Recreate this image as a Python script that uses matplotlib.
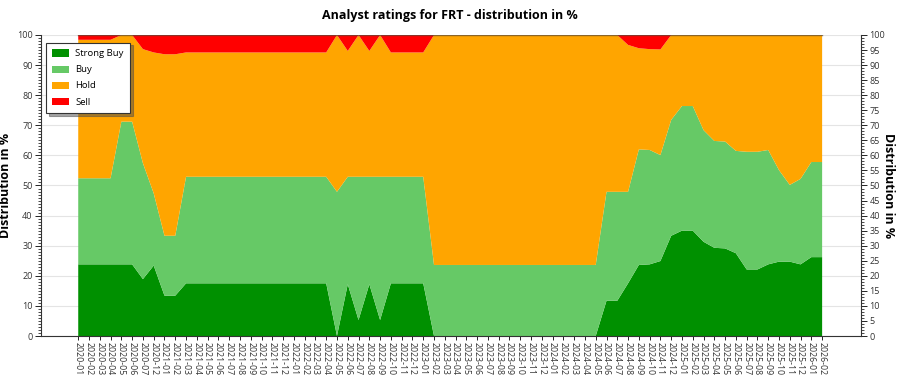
import numpy as np
import matplotlib
matplotlib.use("Agg")
import matplotlib.pyplot as plt
from matplotlib.ticker import MultipleLocator

# ---- data ----
months = [
    "2020-01", "2020-02", "2020-03", "2020-04", "2020-05", "2020-06", "2020-07", "2020-12",
    "2021-01", "2021-02", "2021-03", "2021-04", "2021-05", "2021-06", "2021-07", "2021-08",
    "2021-09", "2021-10", "2021-11", "2021-12",
    "2022-01", "2022-02", "2022-03", "2022-04", "2022-05", "2022-06", "2022-07", "2022-08",
    "2022-09", "2022-10", "2022-11", "2022-12",
    "2023-01", "2023-02", "2023-03", "2023-04", "2023-05", "2023-06", "2023-07", "2023-08",
    "2023-09", "2023-10", "2023-11", "2023-12",
    "2024-01", "2024-02", "2024-03", "2024-04", "2024-05", "2024-06", "2024-07", "2024-08",
    "2024-09", "2024-10", "2024-11", "2024-12",
    "2025-01", "2025-02", "2025-03", "2025-04", "2025-05", "2025-06", "2025-07", "2025-08",
    "2025-09", "2025-10", "2025-11", "2025-12",
    "2026-01", "2026-02",
]

strong_buy = [
    23.8, 23.8, 23.8, 23.8, 23.8, 23.8, 18.9, 23.4,
    13.4, 13.4, 17.5, 17.5, 17.5, 17.5, 17.5, 17.5, 17.5, 17.5, 17.5, 17.5,
    17.5, 17.5, 17.5, 17.5, 0.0, 17.2, 5.3, 17.2, 5.3, 17.5, 17.5, 17.5,
    17.5, 0.0, 0.0, 0.0, 0.0, 0.0, 0.0, 0.0, 0.0, 0.0, 0.0, 0.0,
    0.0, 0.0, 0.0, 0.0, 0.0, 11.7, 11.7, 17.5, 23.6, 23.8, 24.9, 33.3,
    35.0, 35.0, 31.3, 29.3, 29.1, 27.5, 22.1, 22.1, 23.8, 24.7, 24.7, 23.8,
    26.2, 26.2,
]
buy = [
    28.6, 28.6, 28.6, 28.6, 47.4, 47.4, 38.5, 24.0,
    19.9, 19.9, 35.4, 35.4, 35.4, 35.4, 35.4, 35.4, 35.4, 35.4, 35.4, 35.4,
    35.4, 35.4, 35.4, 35.4, 47.9, 35.7, 47.6, 35.7, 47.6, 35.4, 35.4, 35.4,
    35.4, 23.6, 23.6, 23.6, 23.6, 23.6, 23.6, 23.6, 23.6, 23.6, 23.6, 23.6,
    23.6, 23.6, 23.6, 23.6, 23.6, 36.2, 36.2, 30.4, 38.4, 38.0, 35.2, 38.5,
    41.4, 41.4, 37.1, 35.5, 35.5, 34.0, 39.1, 39.1, 38.0, 30.4, 25.5, 28.4,
    31.6, 31.6,
]
hold = [
    46.0, 46.0, 46.0, 46.0, 28.8, 28.8, 37.9, 46.8,
    60.3, 60.3, 41.3, 41.3, 41.3, 41.3, 41.3, 41.3, 41.3, 41.3, 41.3, 41.3,
    41.3, 41.3, 41.3, 41.3, 52.1, 41.8, 47.1, 41.8, 47.1, 41.3, 41.3, 41.3,
    41.3, 76.4, 76.4, 76.4, 76.4, 76.4, 76.4, 76.4, 76.4, 76.4, 76.4, 76.4,
    76.4, 76.4, 76.4, 76.4, 76.4, 52.1, 52.1, 48.8, 33.6, 33.5, 35.1, 28.2,
    23.6, 23.6, 31.6, 35.2, 35.4, 38.5, 38.8, 38.8, 38.2, 44.9, 49.8, 47.8,
    42.2, 42.2,
]
sell = [
    1.6, 1.6, 1.6, 1.6, 0.0, 0.0, 4.7, 5.8,
    6.4, 6.4, 5.8, 5.8, 5.8, 5.8, 5.8, 5.8, 5.8, 5.8, 5.8, 5.8,
    5.8, 5.8, 5.8, 5.8, 0.0, 5.3, 0.0, 5.3, 0.0, 5.8, 5.8, 5.8,
    5.8, 0.0, 0.0, 0.0, 0.0, 0.0, 0.0, 0.0, 0.0, 0.0, 0.0, 0.0,
    0.0, 0.0, 0.0, 0.0, 0.0, 0.0, 0.0, 3.3, 4.4, 4.7, 4.8, 0.0,
    0.0, 0.0, 0.0, 0.0, 0.0, 0.0, 0.0, 0.0, 0.0, 0.0, 0.0, 0.0,
    0.0, 0.0,
]

series_names = ["Strong Buy", "Buy", "Hold", "Sell"]
colors = ["#009000", "#66C966", "#FFA500", "#FF0000"]

# ---- plot ----
plt.rcParams["font.family"] = ["Open Sans", "DejaVu Sans"]

fig = plt.figure(figsize=(9, 3.75), dpi=100)
ax = fig.add_axes([0.0456, 0.104, 0.911, 0.8027])

x = np.arange(len(months))
ax.stackplot(x, strong_buy, buy, hold, sell, colors=colors, labels=series_names, zorder=2)
top = np.array(strong_buy) + np.array(buy) + np.array(hold) + np.array(sell)
ax.plot(x, top, color="#5a4a3a", lw=1.0, alpha=0.7, zorder=3)

ax.set_xlim(-3.45, len(months) - 1 + 3.6)
ax.set_ylim(0, 100)
ax.set_xticks(x)
ax.set_xticklabels(months, rotation=-90, fontsize=6.3, color="#333333")
ax.tick_params(axis="x", length=3, width=0.6, pad=1)

ax.yaxis.set_major_locator(MultipleLocator(10))
ax.yaxis.set_minor_locator(MultipleLocator(1))
ax.tick_params(axis="y", which="major", length=4, width=0.6, pad=2,
               labelsize=6.5, labelcolor="#333333")
ax.tick_params(axis="y", which="minor", length=2, width=0.5)
ax.grid(axis="y", color="#e4e4e4", lw=0.8, zorder=0)
ax.set_axisbelow(True)
for side in ["top", "right"]:
    ax.spines[side].set_visible(False)
ax.spines["left"].set_color("#333333")
ax.spines["bottom"].set_color("#333333")
ax.set_ylabel("Distribution in %", fontsize=9, fontweight="bold")
ax.yaxis.set_label_coords(-0.036, 0.5)

ax2 = ax.twinx()
ax2.set_ylim(0, 100)
ax2.yaxis.set_major_locator(MultipleLocator(5))
ax2.yaxis.set_minor_locator(MultipleLocator(1))
ax2.tick_params(axis="y", which="major", length=4, width=0.6, pad=2,
                labelsize=6.5, labelcolor="#333333")
ax2.tick_params(axis="y", which="minor", length=2, width=0.5)
for side in ["top", "left", "bottom"]:
    ax2.spines[side].set_visible(False)
ax2.spines["right"].set_color("#333333")
ax2.set_ylabel("Distribution in %", fontsize=9, fontweight="bold", rotation=-90, va="center")
ax2.yaxis.set_label_coords(1.034, 0.5)

leg = ax.legend(loc="upper left", bbox_to_anchor=(0.0, 0.99), fontsize=6.8, frameon=True,
                fancybox=False, shadow=True, edgecolor="#333333", handlelength=1.8,
                handleheight=0.8, borderpad=0.7, labelspacing=0.75, handletextpad=0.6)
leg.get_frame().set_linewidth(0.8)
leg.set_zorder(5)

fig.suptitle("Analyst ratings for FRT - distribution in %", fontsize=9, fontweight="bold", y=0.975)

fig.savefig("out.png", dpi=100)
